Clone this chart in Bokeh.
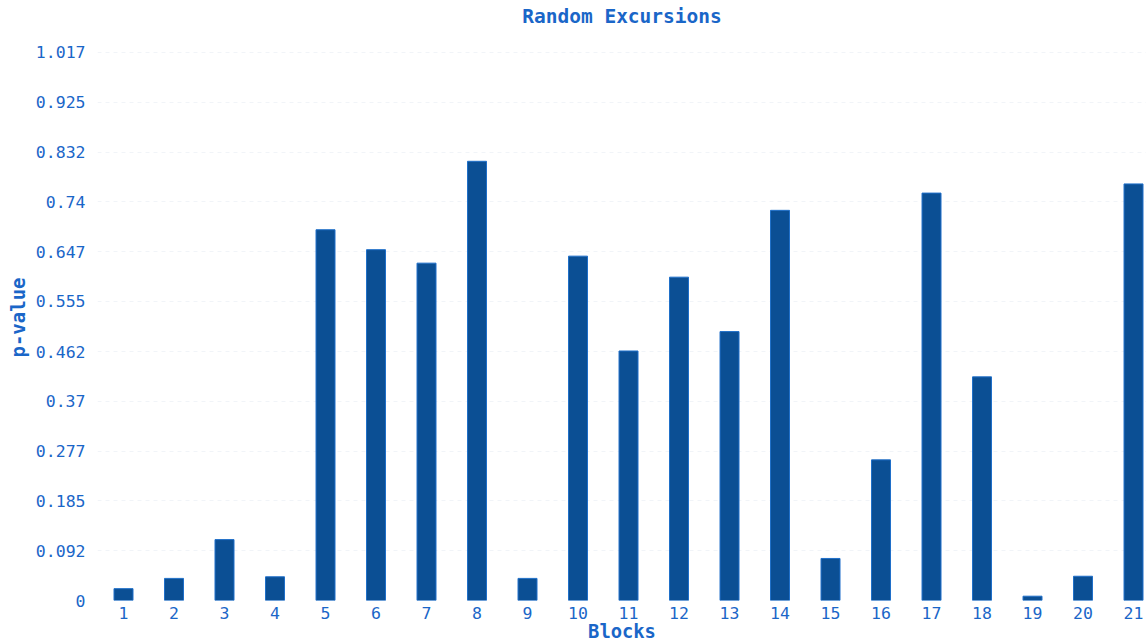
from bokeh.plotting import figure
from bokeh.models import FixedTicker, Range1d
from bokeh.embed import file_html
from bokeh.resources import INLINE

blocks = list(range(1, 22))
p_values = [0.022, 0.041, 0.113, 0.044, 0.688, 0.651, 0.626, 0.815, 0.041, 0.639,
            0.463, 0.600, 0.499, 0.724, 0.078, 0.261, 0.756, 0.415, 0.008, 0.045, 0.773]
y_tick_labels = ["0", "0.092", "0.185", "0.277", "0.37", "0.462", "0.555",
                 "0.647", "0.74", "0.832", "0.925", "1.017"]
x_tick_labels = [str(b) for b in blocks]
title_text = "Random Excursions"

TEXT = "#1a66c8"
MONO = "DejaVu Sans Mono"

W, H = 1146, 644
BL, BR, BT, BB = 97, 0, 34, 42
TOP_TICK_PX = 52  # pixel row of the highest tick
y_top_tick = float(y_tick_labels[-1])
y_end = y_top_tick * (H - BB - BT) / (H - BB - TOP_TICK_PX)

p = figure(width=W, height=H, output_backend="svg", toolbar_location=None,
           x_range=Range1d(0.485, 21.257), y_range=Range1d(0, y_end),
           min_border_left=BL, min_border_right=BR, min_border_top=BT, min_border_bottom=BB)

p.vbar(x=blocks, top=p_values, width=0.376, fill_color="#0b4f94", line_color="#1f6fc9", line_width=1)

p.title.text = title_text
p.title.align = "center"
p.title.vertical_align = "top"
p.title.text_font = MONO
p.title.text_font_size = "19.5px"
p.title.text_font_style = "bold"
p.title.text_color = TEXT
p.title.standoff = 9

p.outline_line_color = None

yt = [float(s) for s in y_tick_labels]
p.yaxis.ticker = FixedTicker(ticks=yt)
p.yaxis.major_label_overrides = {v: s for v, s in zip(yt, y_tick_labels)}
p.xaxis.ticker = FixedTicker(ticks=blocks)
p.xaxis.major_label_overrides = {b: s for b, s in zip(blocks, x_tick_labels)}

for ax in (p.xaxis, p.yaxis):
    ax.axis_line_color = None
    ax.major_tick_line_color = None
    ax.minor_tick_line_color = None
    ax.major_tick_out = 0
    ax.major_tick_in = 0
    ax.major_label_text_font = MONO
    ax.major_label_text_font_size = "16.5px"
    ax.major_label_text_color = TEXT
    ax.axis_label_text_font = MONO
    ax.axis_label_text_font_style = "bold"
    ax.axis_label_text_color = TEXT

p.yaxis.axis_label = "p-value"
p.yaxis.axis_label_text_font_size = "19px"
p.yaxis.major_label_standoff = 12
p.yaxis.axis_label_standoff = 4

p.xaxis.axis_label = "Blocks"
p.xaxis.axis_label_text_font_size = "18.8px"
p.xaxis.major_label_standoff = 6
p.xaxis.axis_label_standoff = -1

p.xgrid.grid_line_color = None
p.ygrid.grid_line_color = "#f1f4f8"
p.ygrid.grid_line_dash = "4 4"

open("out.html", "w").write(file_html(p, INLINE))
